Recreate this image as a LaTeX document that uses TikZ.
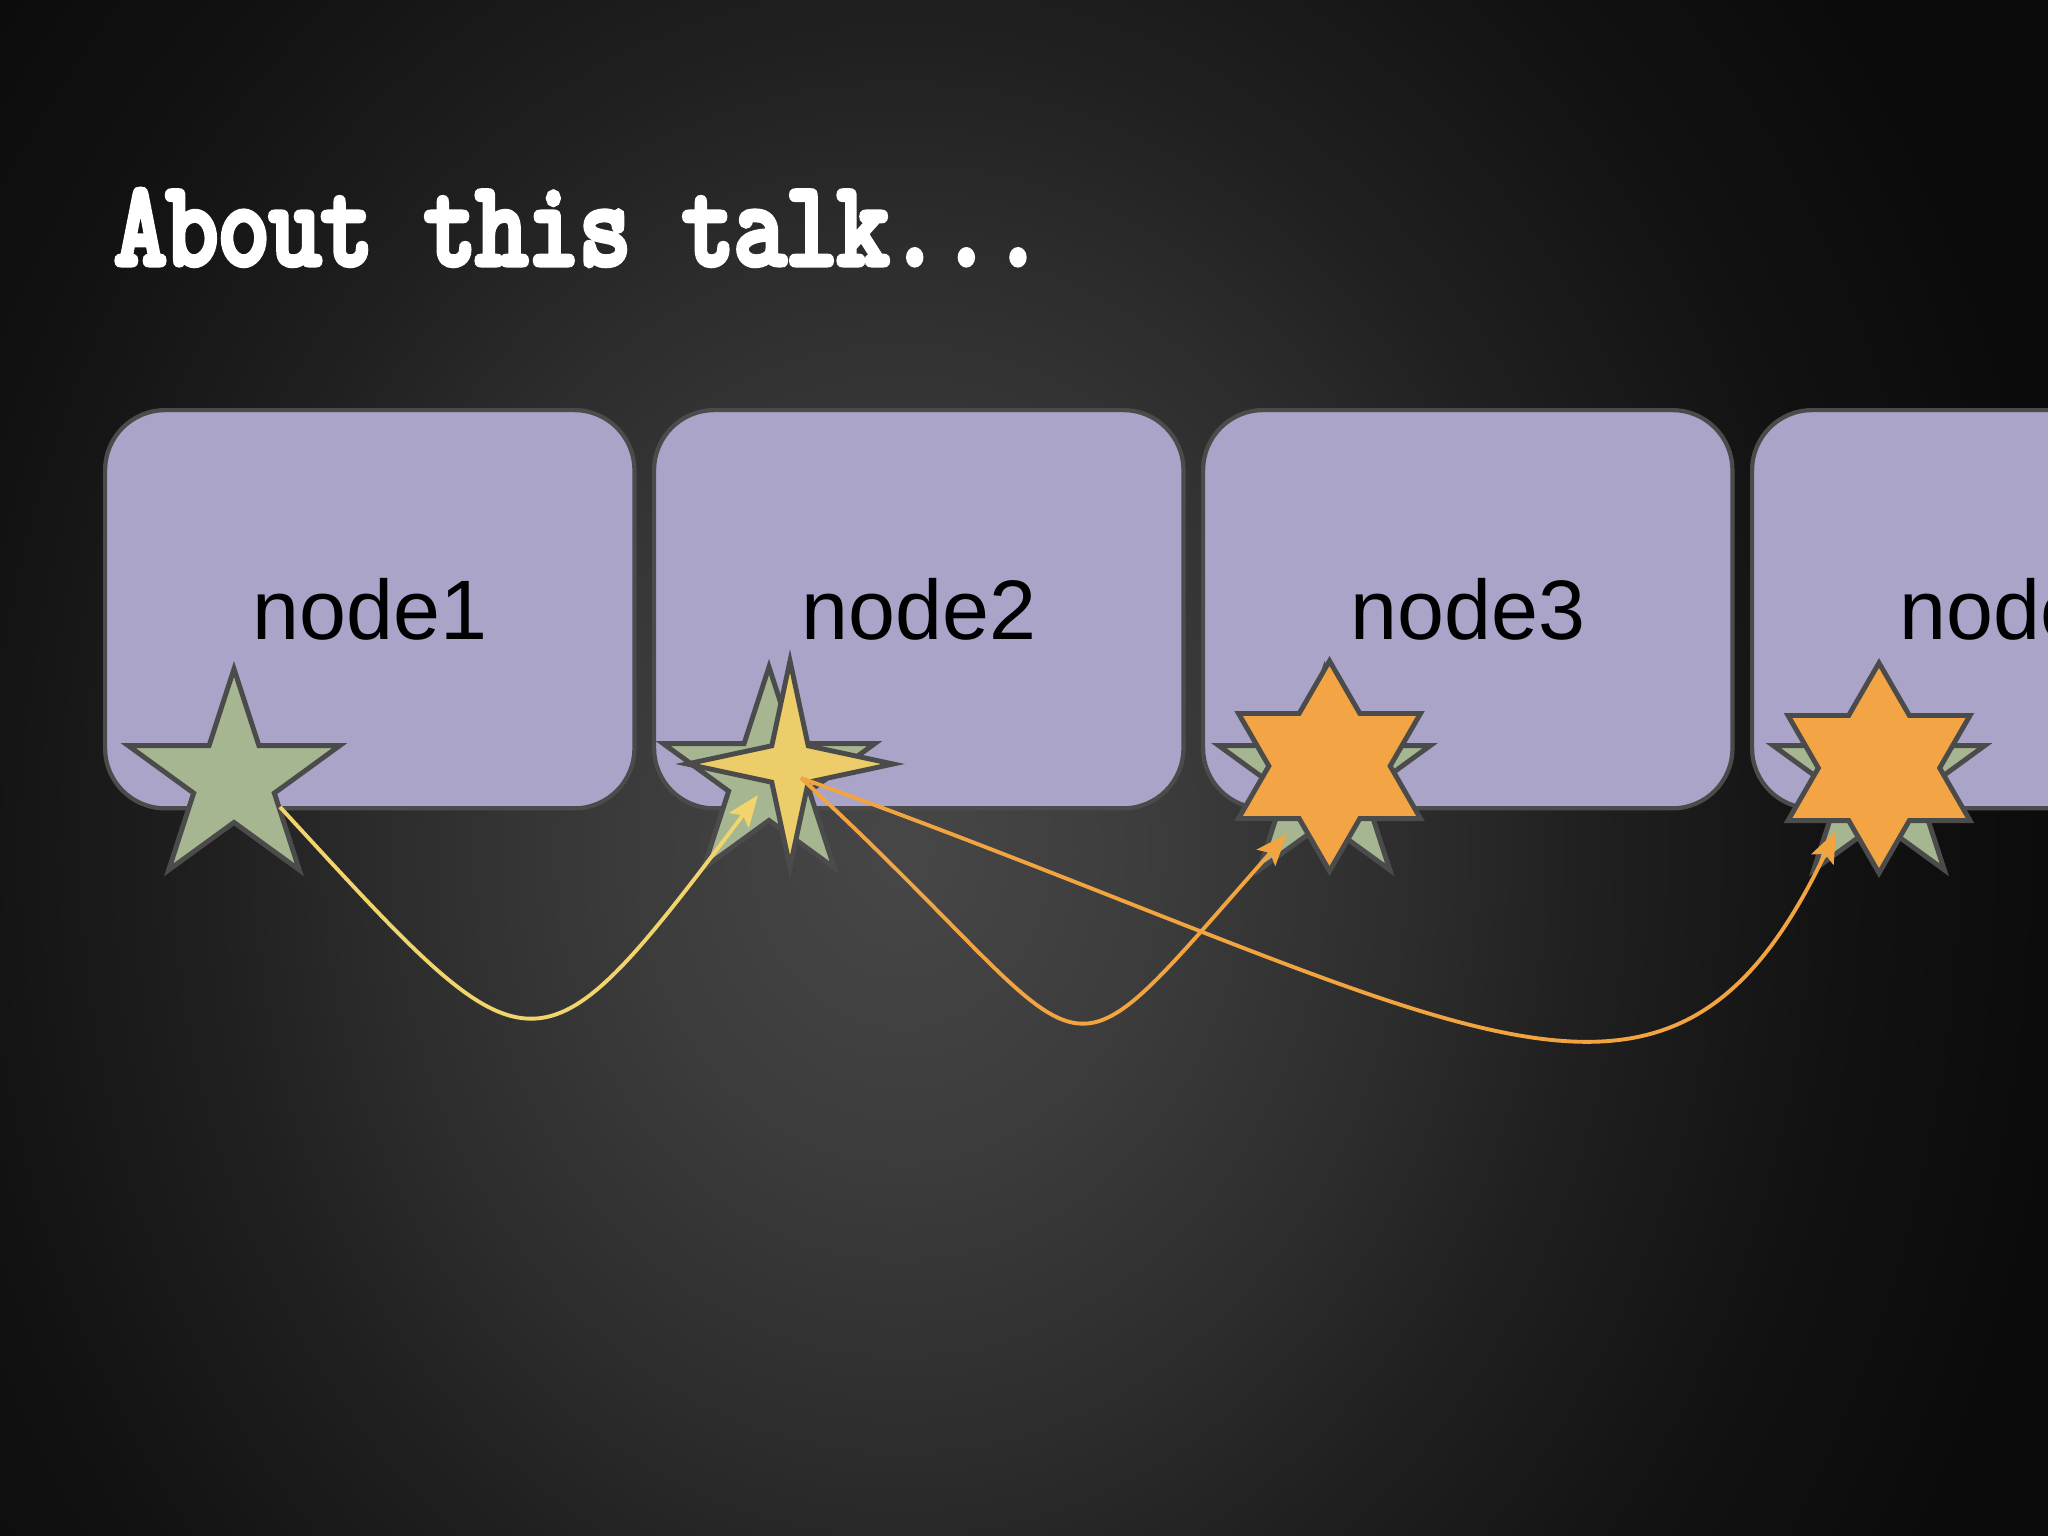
\documentclass[tikz,border=0pt]{standalone}
\usepackage{fontspec}
\setmainfont{Liberation Sans}
\newfontfamily\titlefont[FakeBold=6]{Latin Modern Mono}
\usetikzlibrary{shapes.geometric,arrows.meta,calc}
\definecolor{boxfill}{HTML}{AAA5C8}
\definecolor{edgegray}{HTML}{4B4B4B}
\definecolor{greenstar}{HTML}{A5B691}
\definecolor{yellowstar}{HTML}{ECCD6A}
\definecolor{orangestar}{HTML}{F3A445}
\definecolor{ylinecol}{HTML}{F2D46C}
\definecolor{olinecol}{HTML}{F2A440}
\definecolor{bgA}{HTML}{474747}
\definecolor{bgB}{HTML}{3C3C3C}
\definecolor{bgC}{HTML}{2C2C2C}
\definecolor{bgD}{HTML}{202020}
\definecolor{bgE}{HTML}{121212}
\definecolor{bgF}{HTML}{0B0B0B}
\pgfdeclareradialshading{bgshade}{\pgfpoint{0bp}{0bp}}{color(0bp)=(bgA); color(5.5bp)=(bgB); color(11bp)=(bgC); color(14.5bp)=(bgD); color(20bp)=(bgE); color(25bp)=(bgF); color(50bp)=(bgF)}
\begin{document}
\begin{tikzpicture}[x=0.01cm,y=-0.01cm,
  box/.style={draw=edgegray, line width=1.2pt, fill=boxfill, rounded corners=0.6cm,
    minimum width=5.29cm, minimum height=3.98cm, anchor=north west, inner sep=0pt,
    font=\fontsize{24}{28}\selectfont, text=black},
  starbase/.style={star, draw=edgegray, line width=1.4pt, inner sep=0pt},
  fivestar/.style={starbase, star points=5, star point ratio=2.618, minimum size=2.22cm, fill=greenstar},
  fourstar/.style={starbase, star points=4, star point ratio=4.0, minimum size=2.06cm, fill=yellowstar},
  sixstar/.style={starbase, star points=6, star point ratio=1.732, minimum size=2.10cm, fill=orangestar},
  tipped/.style={-{Stealth[length=9pt,width=7pt,inset=1.8pt]}},
  yconn/.style={tipped, draw=ylinecol, line width=1.1pt},
  oconn/.style={tipped, draw=olinecol, line width=1.1pt}]
\useasboundingbox (0,0) rectangle (2048,1536);
\clip (0,0) rectangle (2048,1536);
\fill[bgF] (0,0) rectangle (2048,1536);
\shade[shading=bgshade] (-280,-550) rectangle (2080,2250);

\node[anchor=base west, text=white, font=\titlefont\bfseries\fontsize{28.5}{32}\selectfont, yscale=1.18, inner sep=0pt]
  (title) at (114,264) {About this talk...};

\node[box] (b1) at (103,408) {node1};
\node[box] (b2) at (652,408) {node2};
\node[box] (b3) at (1201,408) {node3};
\node[box] (b4) at (1750,408) {node4};

\node[fivestar] (g1) at (234,780) {};
\node[fivestar] (g2) at (769,778) {};
\node[fivestar] (g3) at (1324.5,780) {};
\node[fivestar] (g4) at (1879,780) {};

\node[fourstar] (y2) at (790,764) {};
\node[sixstar] (o3) at (1329.5,766) {};
\node[sixstar] (o4) at (1879,768) {};

\draw[yconn] ($(g1.center)+(46,27)$) .. controls (534,1083) and (534,1093) .. ($(g2.center)+(-11,17)$);
\draw[oconn] ($(y2.center)+(11,14)$) .. controls (1115,1067) and (1040,1113) .. ($(g3.center)+(-37.5,54)$);
\draw[oconn] ($(y2.center)+(11,14)$) .. controls (1470,1020) and (1665,1190) .. ($(g4.center)+(-43,51)$);
\end{tikzpicture}
\end{document}
